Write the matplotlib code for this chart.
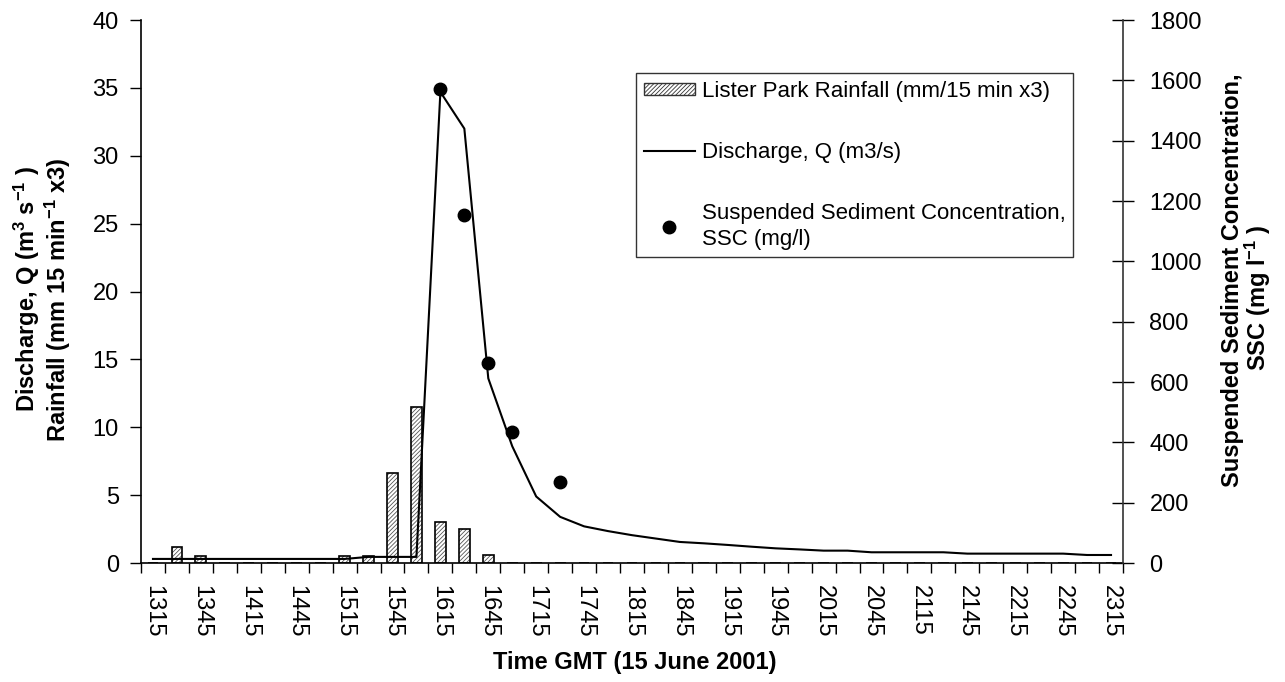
import numpy as np
import matplotlib
matplotlib.use("Agg")
import matplotlib.pyplot as plt
from matplotlib.patches import Patch
from matplotlib.lines import Line2D

plt.rcParams['font.family'] = ['Liberation Sans', 'DejaVu Sans']
plt.rcParams['mathtext.fontset'] = 'custom'
plt.rcParams['mathtext.rm'] = 'Liberation Sans:bold'
plt.rcParams['mathtext.it'] = 'Liberation Sans:bold'
plt.rcParams['mathtext.bf'] = 'Liberation Sans:bold'
plt.rcParams['hatch.linewidth'] = 0.6

# ---- data ----
times = ['1315', '1330', '1345', '1400', '1415', '1430', '1445', '1500', '1515', '1530',
         '1545', '1600', '1615', '1630', '1645', '1700', '1715', '1730', '1745', '1800',
         '1815', '1830', '1845', '1900', '1915', '1930', '1945', '2000', '2015', '2030',
         '2045', '2100', '2115', '2130', '2145', '2200', '2215', '2230', '2245', '2300',
         '2315']
rainfall = [0, 1.2, 0.55, 0, 0, 0, 0, 0, 0.5, 0.55,
            6.6, 11.5, 3.0, 2.5, 0.6, 0, 0, 0, 0, 0,
            0, 0, 0, 0, 0, 0, 0, 0, 0, 0,
            0, 0, 0, 0, 0, 0, 0, 0, 0, 0, 0]
discharge = [0.3, 0.3, 0.3, 0.3, 0.3, 0.3, 0.3, 0.3, 0.3, 0.45,
             0.45, 0.45, 34.7, 32.0, 13.6, 8.6, 4.9, 3.4, 2.7, 2.35,
             2.05, 1.8, 1.55, 1.45, 1.33, 1.2, 1.08, 1.0, 0.91, 0.91,
             0.79, 0.79, 0.79, 0.79, 0.69, 0.69, 0.69, 0.69, 0.69, 0.59, 0.59]
ssc_times = ['1615', '1630', '1645', '1700', '1730']
ssc = [1570, 1155, 664, 435, 268]

FS = 17
LFS = 16
W, H = 1285, 682
fig = plt.figure(figsize=(W / 100, H / 100), dpi=100)
L, R, T, B = 141, 1123, 20, 563
ax = fig.add_axes([L / W, 1 - B / H, (R - L) / W, (B - T) / H])
ax2 = ax.twinx()

x = np.arange(len(times))
HATCH = '////////'
ax.bar(x, rainfall, width=0.45, color='white', edgecolor='#555555', hatch=HATCH,
       linewidth=0, zorder=2)
ax.bar(x, rainfall, width=0.45, color='none', edgecolor='black',
       linewidth=1.2, zorder=2.5)
ax.plot(x, discharge, color='black', lw=1.5, zorder=3)
sx = [times.index(t) for t in ssc_times]
ax2.plot(sx, ssc, 'o', color='black', markersize=9, zorder=4)

ax.set_xlim(-0.5, len(times) - 0.5)
ax.set_ylim(0, 40)
ax2.set_ylim(0, 1800)
ax.set_yticks(np.arange(0, 41, 5))
ax2.set_yticks(np.arange(0, 1801, 200))

ax.set_xticks(x[::2])
ax.set_xticklabels(times[::2], rotation=-90, fontsize=FS)
ax.set_xticks(np.arange(-0.5, len(times), 1), minor=True)
ax.tick_params(axis='x', which='major', length=0, pad=16)
ax.tick_params(axis='x', which='minor', length=7, width=1, direction='out')
ax.tick_params(axis='y', length=8, width=1, direction='out', labelsize=FS, pad=8)
ax2.tick_params(axis='y', length=16, width=1, direction='inout', labelsize=FS, pad=11)

for a in (ax, ax2):
    a.spines['top'].set_visible(False)
ax.spines['right'].set_visible(False)
ax2.spines['left'].set_visible(False)
ax2.spines['bottom'].set_visible(False)
ax2.spines['right'].set_color('#333333')
ax.spines['left'].set_linewidth(1.2)
ax.spines['bottom'].set_linewidth(1.2)
ax2.spines['right'].set_linewidth(1.2)

# axis labels
fig.text(27 / W, 1 - 289 / H, r"Discharge, Q (m$^{3}$ s$^{-1}$ )", rotation=90,
         ha='center', va='center', fontsize=FS, fontweight='bold')
fig.text(58 / W, 1 - 300 / H, r"Rainfall (mm 15 min$^{-1}$ x3)", rotation=90,
         ha='center', va='center', fontsize=FS, fontweight='bold')
fig.text(1233 / W, 1 - 280 / H, "Suspended Sediment Concentration,", rotation=90,
         ha='center', va='center', fontsize=FS, fontweight='bold')
fig.text(1258 / W, 1 - 298 / H, r"SSC (mg l$^{-1}$ )", rotation=90,
         ha='center', va='center', fontsize=FS, fontweight='bold')
fig.text(635 / W, 1 - 663 / H, "Time GMT (15 June 2001)", ha='center', va='center',
         fontsize=FS, fontweight='bold')

handles = [Patch(facecolor='white', edgecolor='#333333', hatch=HATCH, linewidth=1.0),
           Line2D([], [], color='black', lw=1.5),
           Line2D([], [], marker='o', color='black', linestyle='None', markersize=9)]
labels = ['Lister Park Rainfall (mm/15 min x3)', 'Discharge, Q (m3/s)',
          'Suspended Sediment Concentration,\nSSC (mg/l)']
leg = ax2.legend(handles, labels, loc='upper left',
                 bbox_to_anchor=(636 / W, 1 - 73 / H), bbox_transform=fig.transFigure,
                 fontsize=LFS, frameon=True, fancybox=False, edgecolor='black',
                 labelspacing=1.8, handlelength=2.3, handletextpad=0.3,
                 handleheight=0.5, borderpad=0.35, borderaxespad=0)
leg.get_frame().set_linewidth(1.0)
for t in leg.get_texts():
    t.set_linespacing(1.3)

fig.savefig('out.png', dpi=100)
